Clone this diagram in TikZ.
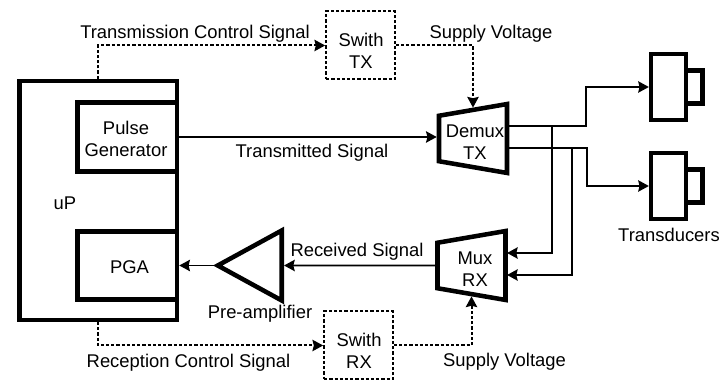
\documentclass[tikz,border=0pt]{standalone}
\usepackage{fontspec}
\setmainfont{Liberation Sans}
\usetikzlibrary{positioning, shapes.geometric, arrows.meta, calc}

\begin{document}
\begin{tikzpicture}[x=0.75pt, y=-0.75pt, >={Stealth[length=8pt, width=8.5pt, inset=1pt]},
        every node/.style={font=\fontsize{13.8}{16.5}\selectfont, align=center},
        block/.style={draw, line width=3.4pt, rectangle, inner sep=0pt},
        switchbox/.style={draw, rectangle, line width=1.5pt, dash pattern=on 2.4pt off 1.5pt, minimum width=51.5pt, minimum height=51pt, inner sep=0pt},
        muxbox/.style={draw, line width=3.4pt, trapezium, trapezium stretches=true, trapezium angle=78, shape border rotate=90, minimum width=51.7pt, minimum height=51pt, inner sep=0pt},
        sig/.style={->, line width=1.3pt},
        ctrl/.style={->, line width=1.5pt, dash pattern=on 2.4pt off 1.5pt}]
      \useasboundingbox (0,0) rectangle (719,381);

      % Controller and its two blocks
      \node[block, minimum width=118pt, minimum height=179pt] (up) at (98.25,200.5) {};
      \node (upText) at (65,203) {uP};
      \node[block, minimum width=74.6pt, minimum height=51.4pt] (pulse) at (127.25,137) {};
      \node (pulseText) at (126,139) {Pulse\\Generator};
      \node[block, minimum width=74.6pt, minimum height=51pt] (pga) at (127.25,265.5) {};
      \node (pgaText) at (129.5,267) {PGA};

      % Switches
      \node[switchbox] (swTX) at (360.5,45.5) {};
      \node (swTXText) at (361,51) {Swith\\TX};
      \node[switchbox] (swRX) at (358.5,345.5) {};
      \node (swRXText) at (359,351) {Swith\\RX};

      % Demux and mux
      \node[muxbox] (demux) at (473,138.5) {\phantom{M}};
      \node (demuxText) at (475,142) {Demux\\TX};
      \node[muxbox] (mux) at (471.5,265.5) {\phantom{M}};
      \node (muxText) at (475,269) {Mux\\RX};

      % Pre-amplifier
      \node[draw, line width=3.4pt, isosceles triangle, isosceles triangle stretches=true, shape border rotate=180, minimum width=52.5pt, minimum height=48pt, inner sep=0pt] (amp) at (261,265.5) {};

      % Transducers
      \node[block, minimum width=26pt, minimum height=49.5pt] (t1) at (668.5,87) {};
      \node[block, right=-3.4pt of t1, minimum width=12.5pt, minimum height=24.75pt] (h1) {};
      \node[block, minimum width=26pt, minimum height=49.5pt] (t2) at (668.5,186) {};
      \node[block, right=-3.4pt of t2, minimum width=12.5pt, minimum height=24.75pt] (h2) {};

      % Branch points
      \coordinate (txA) at (508,126);
      \coordinate (txB) at (508,148);
      \coordinate (brA) at (552,126);
      \coordinate (brB) at (572,148);
      \coordinate (rxA) at (507,253);
      \coordinate (rxB) at (507,275);

      % Control signals
      \draw[ctrl] (up.north) |- (swTX.west);
      \draw[ctrl] (up.south) |- (swRX.west);
      \draw[ctrl] (swTX.east) -| (demux.north);
      \draw[ctrl] (swRX.east) -| (mux.south);

      % Signal path
      \draw[sig] (pulse.east) -- (pulse.east -| demux.west);
      \draw[sig] (mux.west) -- (amp.lower side);
      \draw[sig, shorten <=-4pt] (amp.apex) -- (pga.east);
      \draw[sig] (txA) -- ++(78,0) |- (t1.west);
      \draw[sig] (txB) -- ++(79,0) |- (t2.west);
      \draw[sig] (brA) |- (rxA);
      \draw[sig] (brB) |- (rxB);

      % Labels
      \node (txCtrl) at (195,34) {Transmission Control Signal};
      \node (rxCtrl) at (188.5,363) {Reception Control Signal};
      \node (supTX) at (491,34) {Supply Voltage};
      \node (supRX) at (504.5,362) {Supply Voltage};
      \node (txSig) at (312,153) {Transmitted Signal};
      \node (rxSig) at (357,252) {Received Signal};
      \node (preText) at (260,314) {Pre-amplifier};
      \node (tdText) at (669,235) {Transducers};
    \end{tikzpicture}
\end{document}
